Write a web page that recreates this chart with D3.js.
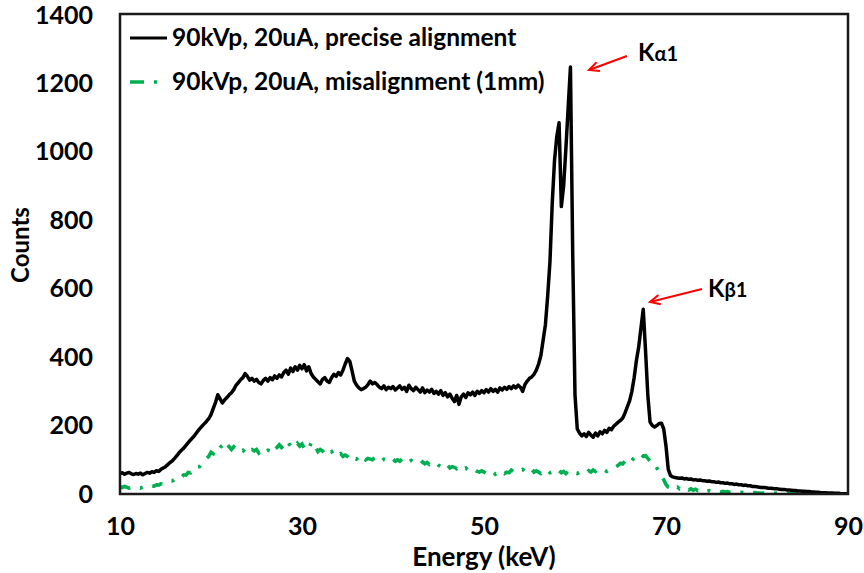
<!DOCTYPE html>
<html>
<head>
<meta charset="utf-8">
<script src="https://cdn.jsdelivr.net/npm/d3@7"></script>
<style>
  html, body { margin: 0; padding: 0; background: #fff; }
  svg text { font-family: Lato, "Noto Sans", sans-serif; font-weight: 700; fill: #000; }
</style>
</head>
<body>
<svg id="chart" width="864" height="573"></svg>
<script>
// Spectrum channels: 10–90 keV in 0.25 keV bins
const energyStart = 10, energyStep = 0.25;

// 90kVp, 20uA, precise alignment (counts per channel)
const countsAligned = [
  60, 62, 58, 61, 63, 59, 57, 60, 58, 61, 56, 60, 63, 61, 65, 63, 68, 66, 72, 76,
  80, 86, 92, 97, 104, 112, 121, 128, 134, 142, 150, 158, 165, 173, 182, 190, 198, 205, 212, 220,
  232, 250, 268, 290, 278, 266, 275, 282, 290, 296, 305, 318, 325, 334, 340, 352, 344, 333, 338, 330,
  335, 326, 322, 332, 338, 330, 340, 334, 345, 338, 348, 342, 355, 362, 350, 368, 358, 372, 362, 376,
  366, 378, 360, 372, 352, 342, 335, 328, 322, 335, 340, 330, 326, 340, 350, 344, 355, 348, 362, 380,
  396, 388, 360, 330, 318, 310, 305, 308, 312, 320, 330, 322, 326, 320, 312, 308, 316, 305, 312, 308,
  314, 304, 310, 316, 306, 312, 300, 318, 308, 302, 312, 305, 298, 310, 296, 304, 298, 306, 294, 300,
  292, 302, 288, 296, 284, 292, 280, 270, 288, 262, 284, 292, 282, 296, 290, 298, 288, 300, 294, 302,
  296, 305, 298, 308, 300, 306, 298, 310, 304, 312, 306, 314, 308, 316, 310, 318, 312, 300, 320, 330,
  338, 342, 350, 362, 380, 405, 450, 495, 580, 680, 850, 975, 1045, 1085, 840, 900, 1010, 1130, 1248, 700,
  290, 190, 178, 170, 176, 168, 180, 172, 166, 178, 170, 182, 176, 186, 180, 192, 188, 198, 204, 210,
  215, 222, 237, 255, 272, 300, 340, 390, 430, 485, 540, 420, 290, 210, 200, 196, 200, 206, 207, 190,
  140, 72, 54, 50, 48, 47, 46, 47, 44, 45, 43, 44, 41, 42, 40, 41, 39, 39, 37, 38,
  36, 36, 34, 35, 33, 33, 31, 32, 30, 30, 28, 29, 27, 27, 25, 26, 24, 24, 22, 22,
  21, 20, 19, 19, 18, 17, 17, 16, 15, 15, 14, 13, 13, 12, 12, 11, 10, 10, 9, 9,
  8, 8, 7, 7, 6, 6, 5, 5, 4, 4, 4, 3, 3, 3, 2, 2, 2, 1, 1, 1,
  0
];

// 90kVp, 20uA, misalignment (1mm)
const countsMisaligned = [
  21, 19, 22, 20, 17, 18, 21, 19, 18, 17, 20, 19, 22, 21, 24, 23, 27, 26, 30, 30,
  34, 33, 38, 38, 43, 42, 49, 48, 56, 55, 63, 62, 71, 70, 79, 80, 90, 96, 104, 110,
  122, 118, 132, 128, 136, 142, 134, 146, 138, 130, 138, 132, 134, 124, 128, 122, 132, 126, 130, 126,
  130, 120, 126, 132, 124, 128, 126, 138, 130, 136, 144, 136, 142, 136, 150, 140, 144, 138, 148, 140,
  146, 134, 142, 134, 148, 132, 136, 124, 130, 126, 118, 126, 120, 124, 114, 120, 114, 118, 110, 114,
  110, 104, 112, 106, 102, 108, 104, 110, 100, 104, 102, 100, 106, 100, 104, 98, 102, 100, 106, 100,
  102, 96, 100, 96, 102, 94, 98, 94, 98, 92, 94, 92, 88, 94, 88, 92, 86, 90, 86, 90,
  84, 80, 86, 80, 84, 76, 80, 78, 74, 80, 76, 72, 76, 70, 72, 66, 70, 66, 64, 68,
  64, 60, 66, 62, 64, 58, 62, 60, 66, 60, 64, 62, 70, 66, 68, 64, 68, 72, 66, 70,
  66, 72, 64, 68, 64, 60, 66, 62, 68, 62, 64, 58, 64, 68, 62, 66, 60, 66, 62, 66,
  62, 60, 64, 62, 66, 62, 68, 64, 70, 66, 72, 68, 66, 70, 66, 70, 74, 74, 80, 84,
  90, 88, 96, 92, 102, 98, 106, 104, 112, 116, 110, 112, 104, 96, 96, 88, 76, 66, 54, 42,
  28, 20, 18, 22, 16, 20, 15, 18, 13, 16, 12, 15, 11, 14, 10, 12, 9, 11, 8, 10,
  8, 9, 7, 8, 6, 8, 6, 7, 5, 6, 5, 6, 4, 5, 4, 5, 3, 4, 3, 4,
  3, 3, 2, 3, 2, 3, 2, 2, 2, 3, 1, 2, 1, 2, 1, 2, 1, 1, 1, 1,
  1, 1, 0, 1, 0, 1, 0, 1, 0, 0, 1, 0, 0, 1, 0, 0, 0, 0, 0, 0,
  0
];

const xTicks = [10, 30, 50, 70, 90];
const yTicks = [0, 200, 400, 600, 800, 1000, 1200, 1400];
const seriesNames = ["90kVp, 20uA, precise alignment", "90kVp, 20uA, misalignment (1mm)"];
const peakLabels = [
  { main: "K", sub: "α1", energy: 59.5, counts: 1248 },
  { main: "K", sub: "β1", energy: 67.5, counts: 540 }
];

const svg = d3.select("#chart");
const plot = { left: 120, right: 848, top: 14, bottom: 494 };

const x = d3.scaleLinear().domain([10, 90]).range([plot.left, plot.right]);
const y = d3.scaleLinear().domain([0, 1400]).range([plot.bottom, plot.top + 1]);

const toPoints = arr => arr.map((c, i) => ({ e: energyStart + i * energyStep, c }));
const line = d3.line().x(d => x(d.e)).y(d => y(d.c));

// Axes (labels only, no tick marks)
const yAxis = svg.append("g")
  .attr("transform", `translate(${plot.left},0)`)
  .call(d3.axisLeft(y).tickValues(yTicks).tickSize(0).tickPadding(27).tickFormat(d3.format("d")));
const xAxis = svg.append("g")
  .attr("transform", `translate(0,${plot.bottom})`)
  .call(d3.axisBottom(x).tickValues(xTicks).tickSize(0).tickPadding(23).tickFormat(d3.format("d")));
[yAxis, xAxis].forEach(g => {
  g.select(".domain").remove();
  g.selectAll("text").style("font-family", "Lato, sans-serif").style("font-weight", 700)
    .style("font-size", "25px").attr("fill", "#000");
});

// Axis titles
svg.append("text")
  .attr("x", (plot.left + plot.right) / 2).attr("y", 566)
  .attr("text-anchor", "middle").style("font-size", "26px")
  .text("Energy (keV)");
svg.append("text")
  .attr("transform", "translate(29,245) rotate(-90)")
  .attr("text-anchor", "middle").style("font-size", "24px")
  .text("Counts");

// Spectra
svg.append("clipPath").attr("id", "plotClip")
  .append("rect").attr("x", plot.left).attr("y", plot.top)
  .attr("width", plot.right - plot.left).attr("height", plot.bottom - plot.top);

svg.append("path")
  .datum(toPoints(countsMisaligned))
  .attr("clip-path", "url(#plotClip)")
  .attr("fill", "none").attr("stroke", "#00B050").attr("stroke-width", 3.6)
  .attr("stroke-dasharray", "11,10,3,10")
  .attr("d", line);

svg.append("path")
  .datum(toPoints(countsAligned))
  .attr("clip-path", "url(#plotClip)")
  .attr("fill", "none").attr("stroke", "#000").attr("stroke-width", 3.5)
  .attr("stroke-linejoin", "round")
  .attr("d", line);

// Plot frame
svg.append("rect")
  .attr("x", plot.left).attr("y", plot.top)
  .attr("width", plot.right - plot.left).attr("height", plot.bottom - plot.top)
  .attr("fill", "none").attr("stroke", "#1a1a1a").attr("stroke-width", 2.5);

// Legend
const legend = svg.append("g");
const legendRows = [
  { name: seriesNames[0], y: 38, stroke: "#000", dash: null, width: 3 },
  { name: seriesNames[1], y: 82, stroke: "#00B050", dash: "14,10,3,10", width: 3.4 }
];
legendRows.forEach(r => {
  legend.append("line")
    .attr("x1", 130).attr("x2", r.dash ? 159 : 167).attr("y1", r.y).attr("y2", r.y)
    .attr("stroke", r.stroke).attr("stroke-width", r.width)
    .attr("stroke-dasharray", r.dash);
  legend.append("text")
    .attr("x", 172).attr("y", r.y + 8)
    .style("font-size", "24.5px")
    .text(r.name);
});

// Peak annotations with red arrows
const arrows = [
  { from: [627, 56], to: [589, 70], label: [638, 61] },
  { from: [702, 289], to: [650, 302], label: [708, 297] }
];
arrows.forEach((a, i) => {
  const g = svg.append("g");
  g.append("line")
    .attr("x1", a.from[0]).attr("y1", a.from[1]).attr("x2", a.to[0]).attr("y2", a.to[1])
    .attr("stroke", "#FF0000").attr("stroke-width", 2);
  const ang = Math.atan2(a.from[1] - a.to[1], a.from[0] - a.to[0]);
  const len = 11, spread = 0.45;
  const head = [
    [a.to[0] + len * Math.cos(ang + spread), a.to[1] + len * Math.sin(ang + spread)],
    a.to,
    [a.to[0] + len * Math.cos(ang - spread), a.to[1] + len * Math.sin(ang - spread)]
  ];
  g.append("path").attr("d", d3.line()(head))
    .attr("fill", "none").attr("stroke", "#FF0000").attr("stroke-width", 2)
    .attr("stroke-linejoin", "miter");
  const t = g.append("text").attr("x", a.label[0]).attr("y", a.label[1]).style("font-size", "24px");
  t.append("tspan").text(peakLabels[i].main);
  t.append("tspan").style("font-size", "20px").text(peakLabels[i].sub);
});
</script>
</body>
</html>
